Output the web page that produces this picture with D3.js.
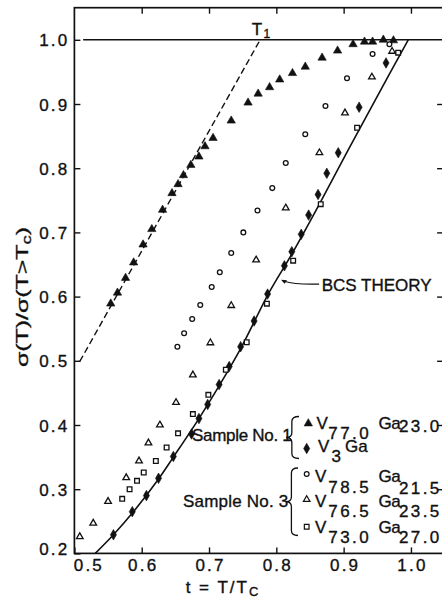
<!DOCTYPE html>
<html>
<head>
<meta charset="utf-8">
<script src="https://cdn.jsdelivr.net/npm/d3@7"></script>
<style>
  html, body { margin: 0; padding: 0; background: #fff; }
  svg { display: block; }
  text { font-family: "Liberation Sans", Arial, sans-serif; fill: #111; stroke: #111; stroke-width: 0.35; }
</style>
</head>
<body>
<svg id="chart" width="442" height="599"></svg>
<script>
// Normalised conductivity sigma(T)/sigma(T>Tc) versus reduced temperature t = T/Tc

// Sample No. 1, V77.0 Ga23.0 (filled triangles)
const v770Ga230 = [
  [0.554,0.589],[0.564,0.606],[0.576,0.629],[0.588,0.653],[0.602,0.681],[0.615,0.705],
  [0.631,0.735],[0.645,0.761],[0.654,0.775],[0.662,0.789],[0.673,0.805],[0.685,0.818],
  [0.694,0.834],[0.706,0.847],[0.733,0.874],[0.758,0.902],[0.773,0.916],[0.790,0.926],
  [0.805,0.938],[0.824,0.948],[0.843,0.958],[0.868,0.972],[0.891,0.983],[0.914,0.993],
  [0.931,0.997],[0.943,0.997],[0.959,1.000],[0.974,0.999]
];
// Sample No. 1, V3Ga (filled diamonds)
const v3Ga = [
  [0.558,0.229],[0.586,0.265],[0.607,0.290],[0.625,0.317],[0.647,0.351],[0.674,0.386],
  [0.685,0.410],[0.698,0.432],[0.715,0.463],[0.730,0.491],[0.747,0.522],[0.767,0.562],
  [0.787,0.604],[0.812,0.648],[0.823,0.670],[0.837,0.697],[0.848,0.727],[0.862,0.759],
  [0.875,0.792],[0.892,0.824],[0.923,0.895],[0.963,0.964]
];
// Sample No. 3, V78.5 Ga21.5 (open circles)
const v785Ga215 = [
  [0.653,0.522],[0.663,0.543],[0.675,0.565],[0.687,0.587],[0.704,0.615],[0.716,0.638],
  [0.733,0.668],[0.751,0.700],[0.772,0.734],[0.794,0.769],[0.814,0.808],[0.843,0.853],
  [0.873,0.897],[0.905,0.940],[0.943,0.978],[0.968,0.993]
];
// Sample No. 3, V76.5 Ga23.5 (open triangles)
const v765Ga235 = [
  [0.508,0.226],[0.528,0.247],[0.550,0.281],[0.577,0.318],[0.596,0.344],[0.610,0.372],
  [0.627,0.400],[0.651,0.435],[0.676,0.478],[0.702,0.528],[0.733,0.586],[0.770,0.657],
  [0.814,0.738],[0.864,0.824],[0.902,0.886],[0.942,0.942],[0.972,0.982]
];
// Sample No. 3, V73.0 Ga27.0 (open squares)
const v730Ga270 = [
  [0.571,0.285],[0.582,0.300],[0.593,0.313],[0.603,0.326],[0.621,0.344],[0.637,0.365],
  [0.654,0.387],[0.676,0.417],[0.699,0.447],[0.725,0.486],[0.756,0.529],[0.786,0.589],
  [0.825,0.656],[0.866,0.744],[0.920,0.863],[0.981,0.980]
];
// BCS theory curve
const bcsCurve = [
  [0.531,0.200],[0.558,0.229],[0.587,0.264],[0.625,0.316],[0.647,0.350],[0.685,0.410],
  [0.715,0.461],[0.748,0.521],[0.788,0.604],[0.824,0.668],[0.865,0.746],[0.907,0.829],
  [0.951,0.914],[0.996,1.000]
];
// Dashed line ending at T1
const t1Line = [[0.508,0.499],[0.776,1.000]];
// Reference level sigma = sigma(T>Tc)
const unityLine = [[0.513,1.0],[1.05,1.0]];

// Axes
const xDomain = [0.5, 1.05];
const yDomain = [0.2, 1.05];
const xTickValues = [0.5, 0.6, 0.7, 0.8, 0.9, 1.0];
const xTickLabels = ["0.5", "0.6", "0.7", "0.8", "0.9", "1.0"];
const yTickValues = [0.2, 0.3, 0.4, 0.5, 0.6, 0.7, 0.8, 0.9, 1.0];
const yTickLabels = ["0.2", "0.3", "0.4", "0.5", "0.6", "0.7", "0.8", "0.9", "1.0"];

const svg = d3.select("#chart");
const x = d3.scaleLinear().domain(xDomain).range([74.4, 444.6]);
const y = d3.scaleLinear().domain(yDomain).range([553.4, 7.7]);

const ink = "#111";

// frame
svg.append("rect")
  .attr("x", x(xDomain[0])).attr("y", y(yDomain[1]))
  .attr("width", x(xDomain[1]) - x(xDomain[0]))
  .attr("height", y(yDomain[0]) - y(yDomain[1]))
  .attr("fill", "none").attr("stroke", ink).attr("stroke-width", 1.7);

function styleAxis(g) {
  g.select(".domain").remove();
  g.selectAll(".tick line").attr("stroke", ink).attr("stroke-width", 1.4);
  g.selectAll(".tick text")
    .attr("font-size", 17).attr("letter-spacing", 2.2)
    .attr("fill", ink).attr("font-family", "Liberation Sans, Arial, sans-serif");
}

// bottom axis with labels
const xAxisG = svg.append("g")
  .attr("transform", `translate(0,${y(yDomain[0])})`)
  .call(d3.axisBottom(x).tickValues(xTickValues).tickSize(-6)
    .tickFormat((d, i) => xTickLabels[i]))
  .call(styleAxis);
xAxisG.selectAll(".tick text").attr("y", 17.5).attr("dy", 0)
  .attr("dx", (d, i) => i === 0 ? 14 : 1);

// top axis, ticks only
svg.append("g")
  .attr("transform", `translate(0,${y(yDomain[1])})`)
  .call(d3.axisTop(x).tickValues(xTickValues.slice(1)).tickSize(-6).tickFormat(""))
  .call(styleAxis);

// left axis with labels
const yAxisG = svg.append("g")
  .attr("transform", `translate(${x(xDomain[0])},0)`)
  .call(d3.axisLeft(y).tickValues(yTickValues).tickSize(-6)
    .tickFormat((d, i) => yTickLabels[i]))
  .call(styleAxis);
yAxisG.selectAll(".tick text").attr("x", -5).attr("dy", "0.36em")
  .attr("transform", (d, i) => i === 0 ? "translate(0,-5)" : null);

// right axis, ticks only
svg.append("g")
  .attr("transform", `translate(${x(xDomain[1]) - 1.5},0)`)
  .call(d3.axisRight(y).tickValues(yTickValues.slice(1, -1)).tickSize(-6).tickFormat(""))
  .call(styleAxis);

const line = d3.line().x(d => x(d[0])).y(d => y(d[1]));

// unity line
svg.append("path").datum(unityLine).attr("d", line)
  .attr("fill", "none").attr("stroke", ink).attr("stroke-width", 1.4);

// dashed line to T1
svg.append("path").datum(t1Line).attr("d", line)
  .attr("fill", "none").attr("stroke", ink).attr("stroke-width", 1.4)
  .attr("stroke-dasharray", "6.5,3.5");

// BCS curve
svg.append("path").datum(bcsCurve)
  .attr("d", line.curve(d3.curveCatmullRom.alpha(0.5)))
  .attr("fill", "none").attr("stroke", ink).attr("stroke-width", 1.6);

// markers
const sym = {
  filledTri: d3.symbol().type(d3.symbolTriangle).size(30),
  diamond: d3.symbol().type(d3.symbolDiamond).size(32),
  circle: d3.symbol().type(d3.symbolCircle).size(18),
  openTri: d3.symbol().type(d3.symbolTriangle).size(19),
  square: d3.symbol().type(d3.symbolSquare).size(22)
};
const series = [
  { data: v770Ga230, shape: "filledTri", filled: true },
  { data: v3Ga, shape: "diamond", filled: true },
  { data: v785Ga215, shape: "circle", filled: false },
  { data: v765Ga235, shape: "openTri", filled: false },
  { data: v730Ga270, shape: "square", filled: false }
];
series.forEach(s => {
  svg.append("g").selectAll("path").data(s.data).join("path")
    .attr("transform", d => `translate(${x(d[0])},${y(d[1])})`)
    .attr("d", sym[s.shape]())
    .attr("fill", s.filled ? ink : "#fff")
    .attr("stroke", ink)
    .attr("stroke-width", s.filled ? 0.6 : 1.3);
});

// T1 label at the end of the dashed line
const t1End = t1Line[1];
const t1Label = svg.append("text")
  .attr("x", x(t1End[0]) - 8.5).attr("y", y(t1End[1]) - 4.5)
  .attr("font-size", 17);
t1Label.append("tspan").text("T");
t1Label.append("tspan").attr("font-size", 12).attr("dx", 1.5).attr("dy", 2.5).text("1");

// BCS THEORY label with leader arrow
const bcsLabelAt = [0.8675, 0.6095];
const bcsArrowFrom = [0.865, 0.6195];
const bcsArrowTo = [0.807, 0.6262];
svg.append("text")
  .attr("x", x(bcsLabelAt[0])).attr("y", y(bcsLabelAt[1]))
  .attr("font-size", 17)
  .text("BCS THEORY");
{
  const [x0, y0] = [x(bcsArrowFrom[0]) - 1, y(bcsArrowFrom[1])];
  const [x1, y1] = [x(bcsArrowTo[0]), y(bcsArrowTo[1])];
  svg.append("path")
    .attr("d", `M${x0},${y0} C${x0 - 18},${y0 + 0.5} ${x1 + 12},${y0} ${x1 + 3},${y1 + 1.5}`)
    .attr("fill", "none").attr("stroke", ink).attr("stroke-width", 1.2);
  svg.append("path")
    .attr("d", `M${x1},${y1} L${x1 + 6},${y1 + 0.5} L${x1 + 3.5},${y1 + 4} Z`)
    .attr("fill", ink);
}

// legend
function brace(xTip, yTop, yBot, w) {
  const ym = (yTop + yBot) / 2;
  const xs = xTip + w * 0.45;
  const xe = xTip + w;
  const r = 5;
  return `M${xe},${yTop} Q${xs},${yTop} ${xs},${yTop + r} L${xs},${ym - r} ` +
         `Q${xs},${ym} ${xTip},${ym} Q${xs},${ym} ${xs},${ym + r} ` +
         `L${xs},${yBot - r} Q${xs},${yBot} ${xe},${yBot}`;
}
const legend = svg.append("g");
legend.append("path").attr("d", brace(286, 416.5, 458.5, 13))
  .attr("fill", "none").attr("stroke", ink).attr("stroke-width", 1.3);
legend.append("path").attr("d", brace(286, 468, 535.5, 12))
  .attr("fill", "none").attr("stroke", ink).attr("stroke-width", 1.3);
legend.append("text").attr("x", 192).attr("y", 440.5).attr("font-size", 17)
  .attr("letter-spacing", -0.3).text("Sample No. 1");
legend.append("text").attr("x", 183).attr("y", 506.5).attr("font-size", 17)
  .attr("letter-spacing", 0.2).text("Sample No. 3");

const legendRows = [
  { shape: "filledTri", filled: true, my: 423.5, v: "V", vs: "77.0", ga: "Ga", gs: "23.0", base: 428.5, vsDy: 10, gsDy: 3 },
  { shape: "diamond", filled: true, my: 448.5, v: "V", vs: "3", ga: "Ga", gs: "", base: 452.2, vsDy: 10 },
  { shape: "circle", filled: false, my: 474, v: "V", vs: "78.5", ga: "Ga", gs: "21.5", base: 481.7, vsDy: 11, gsDy: 12.3 },
  { shape: "openTri", filled: false, my: 499.5, v: "V", vs: "76.5", ga: "Ga", gs: "23.5", base: 506.7, vsDy: 10.6, gsDy: 10.6 },
  { shape: "square", filled: false, my: 526.7, v: "V", vs: "73.0", ga: "Ga", gs: "27.0", base: 532.7, vsDy: 10, gsDy: 10 }
];
legendRows.forEach((r, i) => {
  legend.append("path")
    .attr("transform", `translate(${i === 0 ? 308.3 : 306.7},${r.my})`)
    .attr("d", sym[r.shape]())
    .attr("fill", r.filled ? ink : "#fff").attr("stroke", ink)
    .attr("stroke-width", r.filled ? 0.6 : 1.2);
  const vx = i === 0 ? 316.5 : (i === 1 ? 318 : 315);
  legend.append("text").attr("x", vx).attr("y", r.base).attr("font-size", 17).text(r.v);
  if (i === 1) {
    legend.append("text").attr("x", 331.5).attr("y", r.base + r.vsDy).attr("font-size", 17).text(r.vs);
    legend.append("text").attr("x", 345).attr("y", r.base).attr("font-size", 17).text(r.ga);
  } else {
    legend.append("text").attr("x", 328.3).attr("y", r.base + r.vsDy).attr("font-size", 17)
      .attr("letter-spacing", 2.4).text(r.vs);
    legend.append("text").attr("x", 378.5).attr("y", r.base).attr("font-size", 17)
      .attr("letter-spacing", -0.5).text(r.ga);
    legend.append("text").attr("x", 399).attr("y", r.base + r.gsDy).attr("font-size", 17)
      .attr("letter-spacing", 2.4).text(r.gs);
  }
});

// axis titles
const xTitle = svg.append("text")
  .attr("x", 223).attr("y", 593).attr("text-anchor", "middle")
  .attr("font-size", 17).attr("letter-spacing", 2);
xTitle.append("tspan").text("t = T/T");
xTitle.append("tspan").attr("font-size", 13).attr("dy", 3).text("C");

const yTitle = svg.append("text")
  .attr("transform", "translate(28,297) rotate(-90)")
  .attr("text-anchor", "middle")
  .attr("font-size", 16)
  .attr("textLength", 140).attr("lengthAdjust", "spacingAndGlyphs");
yTitle.append("tspan").text("σ(T)/σ(T>T");
yTitle.append("tspan").attr("font-size", 12).attr("dy", 3).text("c");
yTitle.append("tspan").attr("dy", -3).text(")");
</script>
</body>
</html>
